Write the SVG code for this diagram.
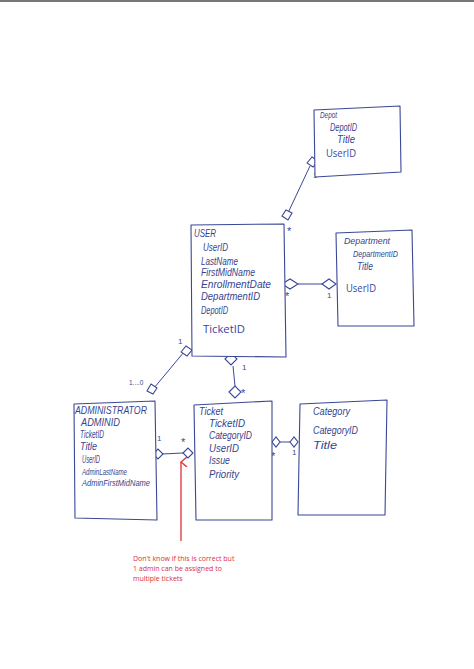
<svg xmlns="http://www.w3.org/2000/svg" width="474" height="669" viewBox="0 0 474 669">
<defs>
<style>
.box{fill:#fff;stroke:#3a4896;stroke-width:1.1;stroke-linejoin:round}
.hw{font-family:"Liberation Sans","DejaVu Sans",sans-serif;font-style:italic;fill:#34448f;font-size:10px}
.ty{font-family:"Open Sans","Liberation Sans",sans-serif;fill:#3747a8;font-size:10.5px}
.ln{stroke:#3a4896;stroke-width:1;fill:none}
.dm{fill:#fff;stroke:#3a4896;stroke-width:1.1}
.lb{font-family:"Liberation Sans",sans-serif;fill:#3a4896;font-size:8px}
.st{font-family:"Liberation Sans",sans-serif;fill:#3a4896;font-size:11px}
.note{font-family:"Open Sans","Liberation Sans",sans-serif;fill:#d9303a;font-size:7px}
</style>
<marker id="arr" viewBox="0 0 10 10" refX="5" refY="1" markerWidth="10" markerHeight="10" orient="auto-start-reverse" markerUnits="userSpaceOnUse">
<path d="M0,7 L5,1 L10,7" fill="none" stroke="#e03030" stroke-width="1.3"/>
</marker>
</defs>
<rect width="474" height="669" fill="#fff"/>
<line x1="0" y1="1" x2="474" y2="1" stroke="#777" stroke-width="2"/>

<g id="connectors">
<line class="ln" x1="310" y1="166" x2="287" y2="215"/>
<path class="dm" d="M307,163 L312,157 L318,161 L313,167 Z"/>
<path class="dm" d="M282,216 L286,210 L292,213 L288,220 Z"/>
<text class="lb" x="313" y="178">1</text>
<text class="st" x="287" y="235">*</text>

<line class="ln" x1="298" y1="284" x2="322" y2="284"/>
<path class="dm" d="M282,284 L290,279 L298,284 L290,289 Z"/>
<path class="dm" d="M322,284 L329,279 L336,284 L329,289 Z"/>
<text class="st" x="285" y="300">*</text>
<text class="lb" x="327" y="298">1</text>

<line class="ln" x1="184" y1="352" x2="154" y2="388"/>
<path class="dm" d="M181,352 L186,346 L192,350 L187,356 Z"/>
<path class="dm" d="M147,391 L151,384 L157,388 L153,394 Z"/>
<text class="lb" x="178" y="344">1</text>
<text class="lb" x="129" y="385" style="font-size:6.5px">1....0</text>

<line class="ln" x1="233" y1="366" x2="235" y2="386"/>
<path class="dm" d="M225,359 L231,353 L237,359 L231,365 Z"/>
<path class="dm" d="M229,392 L235,386 L241,392 L235,398 Z"/>
<text class="lb" x="242" y="370">1</text>
<text class="st" x="241" y="397">*</text>

<line class="ln" x1="162" y1="454" x2="183" y2="453"/>
<path class="dm" d="M153,454 L158,449 L163,454 L158,459 Z"/>
<path class="dm" d="M183,453 L188,448 L193,453 L188,458 Z"/>
<text class="lb" x="157" y="441">1</text>
<text class="st" x="181" y="446">*</text>

<line class="ln" x1="280" y1="442" x2="290" y2="442"/>
<path class="dm" d="M272,442 L276,437 L280,442 L276,447 Z"/>
<path class="dm" d="M290,442 L294,437 L298,442 L294,447 Z"/>
<text class="st" x="271" y="460">*</text>
<text class="lb" x="292" y="455">1</text>

<line x1="181" y1="541" x2="181" y2="462" stroke="#e03030" stroke-width="1.3" marker-end="url(#arr)"/>
</g>

<g id="depot">
<path class="box" d="M314,110 L400,106 L401,172 L315,177 Z"/>
<text class="hw" x="320" y="118" textLength="17" lengthAdjust="spacingAndGlyphs" style="font-size:8.5px">Depot</text>
<text class="hw" x="330" y="131" textLength="27" lengthAdjust="spacingAndGlyphs">DepotID</text>
<text class="hw" x="337" y="143" textLength="18" lengthAdjust="spacingAndGlyphs">Title</text>
<text class="ty" x="326" y="157" textLength="30" lengthAdjust="spacingAndGlyphs">UserID</text>
</g>

<g id="user">
<path class="box" d="M191,225 L284,224 L286,357 L192,356 Z"/>
<text class="hw" x="194" y="237" textLength="22" lengthAdjust="spacingAndGlyphs">USER</text>
<text class="hw" x="203" y="251" textLength="25" lengthAdjust="spacingAndGlyphs">UserID</text>
<text class="hw" x="201" y="265" textLength="37" lengthAdjust="spacingAndGlyphs">LastName</text>
<text class="hw" x="201" y="276" textLength="54" lengthAdjust="spacingAndGlyphs">FirstMidName</text>
<text class="hw" x="201" y="288" textLength="70" lengthAdjust="spacingAndGlyphs">EnrollmentDate</text>
<text class="hw" x="201" y="300" textLength="59" lengthAdjust="spacingAndGlyphs">DepartmentID</text>
<text class="hw" x="201" y="314" textLength="27" lengthAdjust="spacingAndGlyphs">DepotID</text>
<text class="ty" x="203" y="333" textLength="42" lengthAdjust="spacingAndGlyphs">TicketID</text>
</g>

<g id="department">
<path class="box" d="M336,233 L412,230 L414,326 L338,326 Z"/>
<text class="hw" x="344" y="244" textLength="46" lengthAdjust="spacingAndGlyphs" style="font-size:8.5px">Department</text>
<text class="hw" x="353" y="257" textLength="45" lengthAdjust="spacingAndGlyphs" style="font-size:8.5px">DepartmentID</text>
<text class="hw" x="357" y="270" textLength="16" lengthAdjust="spacingAndGlyphs">Title</text>
<text class="ty" x="346" y="292" textLength="30" lengthAdjust="spacingAndGlyphs">UserID</text>
</g>

<g id="administrator">
<path class="box" d="M74,404 L155,401 L157,520 L75,518 Z"/>
<text class="hw" x="75" y="414" textLength="72" lengthAdjust="spacingAndGlyphs">ADMINISTRATOR</text>
<text class="hw" x="81" y="426" textLength="39" lengthAdjust="spacingAndGlyphs">ADMINID</text>
<text class="hw" x="80" y="438" textLength="24" lengthAdjust="spacingAndGlyphs">TicketID</text>
<text class="hw" x="80" y="450" textLength="17" lengthAdjust="spacingAndGlyphs">Title</text>
<text class="hw" x="82" y="463" textLength="18" lengthAdjust="spacingAndGlyphs">UserID</text>
<text class="hw" x="82" y="475" textLength="45" lengthAdjust="spacingAndGlyphs" style="font-size:8.5px">AdminLastName</text>
<text class="hw" x="82" y="486" textLength="68" lengthAdjust="spacingAndGlyphs" style="font-size:8.5px">AdminFirstMidName</text>
</g>

<g id="ticket">
<path class="box" d="M194,405 L272,401 L272,520 L196,520 Z"/>
<text class="hw" x="199" y="415" textLength="24" lengthAdjust="spacingAndGlyphs">Ticket</text>
<text class="hw" x="209" y="427" textLength="36" lengthAdjust="spacingAndGlyphs">TicketID</text>
<text class="hw" x="209" y="439" textLength="43" lengthAdjust="spacingAndGlyphs">CategoryID</text>
<text class="hw" x="209" y="452" textLength="30" lengthAdjust="spacingAndGlyphs">UserID</text>
<text class="hw" x="209" y="464" textLength="21" lengthAdjust="spacingAndGlyphs">Issue</text>
<text class="hw" x="209" y="478" textLength="30" lengthAdjust="spacingAndGlyphs">Priority</text>
</g>

<g id="category">
<path class="box" d="M300,404 L387,400 L385,515 L298,515 Z"/>
<text class="hw" x="313" y="415" textLength="37" lengthAdjust="spacingAndGlyphs">Category</text>
<text class="hw" x="313" y="434" textLength="45" lengthAdjust="spacingAndGlyphs">CategoryID</text>
<text class="hw" x="313" y="449" textLength="24" lengthAdjust="spacingAndGlyphs">Title</text>
</g>

<g id="note">
<text class="note" x="133" y="561">Don't know if this is correct but</text>
<text class="note" x="133" y="571">1 admin can be assigned to</text>
<text class="note" x="133" y="581">multiple tickets</text>
</g>
</svg>
